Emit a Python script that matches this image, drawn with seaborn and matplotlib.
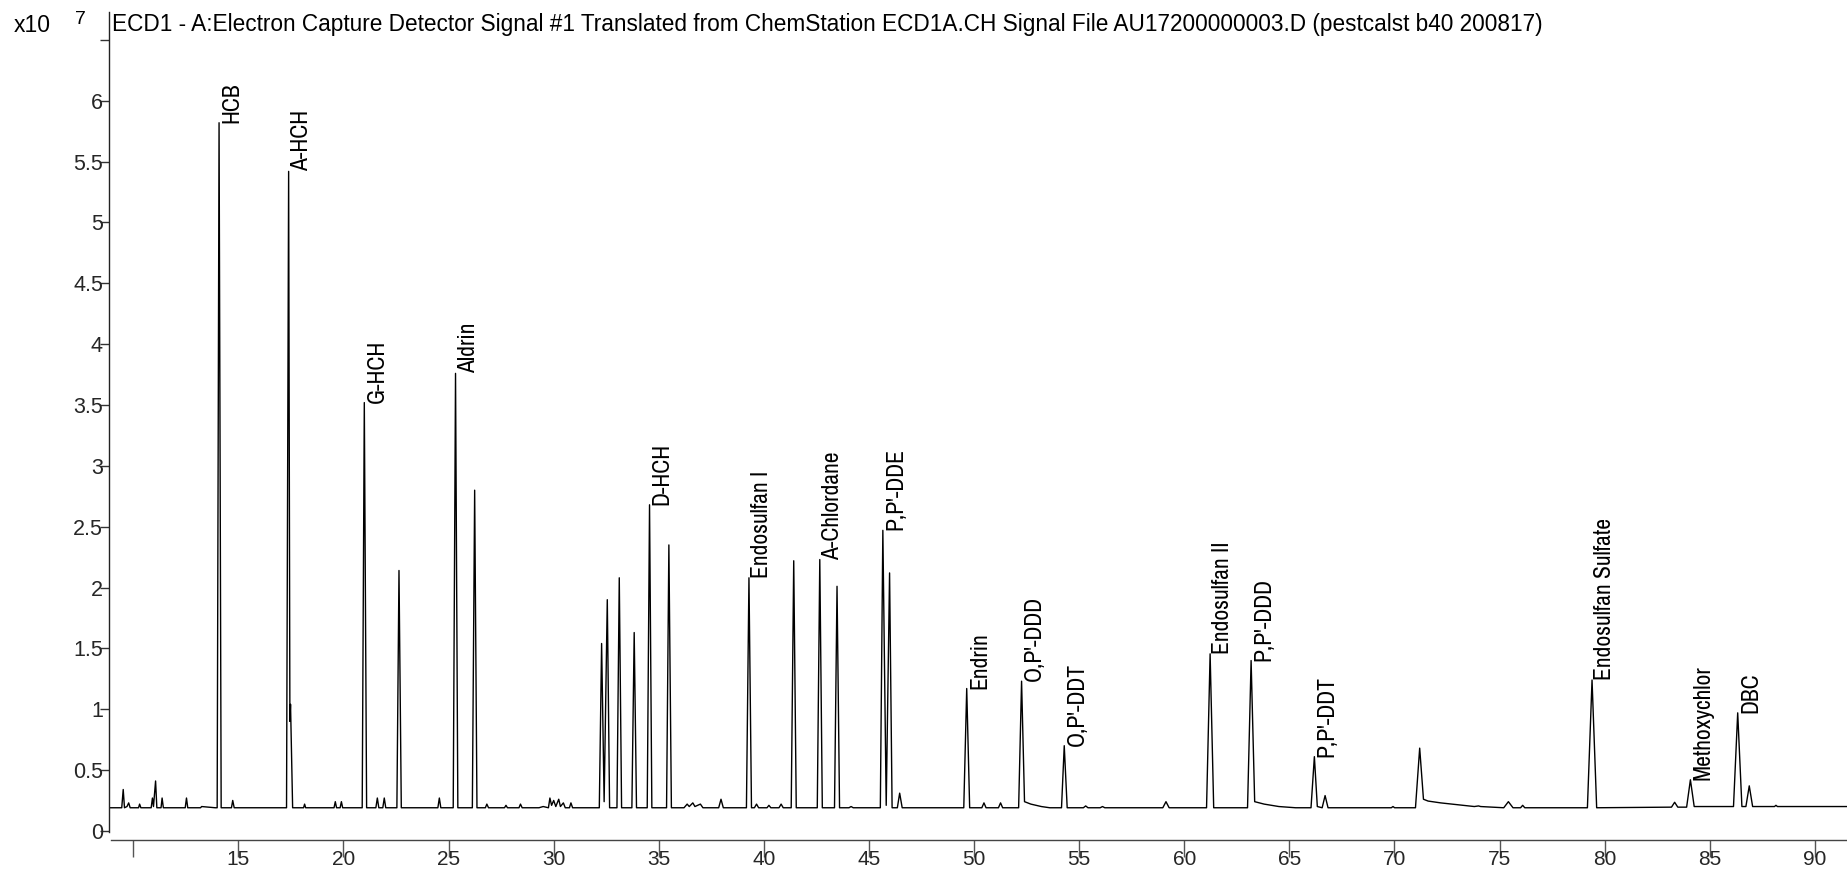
import numpy as np
import pandas as pd
import matplotlib
matplotlib.use("Agg")
import matplotlib.pyplot as plt
from matplotlib import font_manager
import seaborn as sns

# ---- chromatogram trace: retention time (min) and ECD response (x10^7 counts) ----
trace_time = [
    8.85, 9.45, 9.52, 9.58, 9.70, 9.78, 9.85, 10.25, 10.30, 10.36,
    10.85, 10.91, 10.96, 11.06, 11.12, 11.32, 11.37, 11.43, 12.47, 12.53,
    12.59, 13.20, 13.25, 13.90,
    13.99, 14.08, 14.18,
    14.67, 14.73, 14.80,
    17.29, 17.39, 17.45, 17.48, 17.58,
    18.10, 18.15, 18.20, 19.55, 19.61, 19.67, 19.84, 19.90, 19.96,
    20.89, 20.99, 21.10,
    21.54, 21.61, 21.68, 21.87, 21.94, 22.01,
    22.54, 22.64, 22.75,
    24.49, 24.56, 24.63,
    25.22, 25.33, 25.44,
    26.13, 26.24, 26.35,
    26.75, 26.82, 26.90, 27.66, 27.73, 27.80, 28.35, 28.42, 28.50,
    29.30, 29.50, 29.75, 29.82, 29.90, 30.00, 30.10, 30.24, 30.32, 30.46,
    30.55, 30.75, 30.82, 30.90,
    32.17, 32.28, 32.40, 32.55, 32.66,
    33.01, 33.12, 33.23,
    33.72, 33.83, 33.94,
    34.45, 34.56, 34.67,
    35.37, 35.48, 35.60,
    36.20, 36.35, 36.45, 36.62, 36.72, 36.98, 37.10,
    37.85, 37.96, 38.07,
    39.17, 39.29, 39.41,
    39.55, 39.65, 39.75, 40.15, 40.24, 40.33, 40.72, 40.82, 40.92,
    41.30, 41.42, 41.54,
    42.54, 42.66, 42.78,
    43.36, 43.48, 43.60,
    44.05, 44.15, 44.25,
    45.54, 45.66, 45.82, 45.98, 46.10,
    46.35, 46.46, 46.58,
    49.51, 49.65, 49.79,
    50.37, 50.47, 50.57, 51.16, 51.26, 51.36,
    52.12, 52.26, 52.40, 52.70, 53.20, 53.60,
    54.16, 54.29, 54.43,
    55.20, 55.31, 55.42, 56.00, 56.11, 56.22,
    58.98, 59.13, 59.28,
    61.06, 61.23, 61.40,
    63.01, 63.18, 63.35, 63.80, 64.50, 65.30,
    66.03, 66.19, 66.33, 66.56, 66.70, 66.84,
    69.85, 69.93, 70.01,
    71.00, 71.20, 71.38, 71.60, 72.20, 73.00, 73.80, 74.00, 74.10,
    75.20, 75.42, 75.64, 76.00, 76.10, 76.20,
    79.18, 79.40, 79.62,
    83.18, 83.33, 83.48,
    83.90, 84.08, 84.26,
    86.13, 86.33, 86.53, 86.72, 86.88, 87.04,
    88.08, 88.15, 88.22, 91.60,
]
trace_signal = [
    0.19, 0.19, 0.34, 0.19, 0.20, 0.23, 0.19, 0.19, 0.22, 0.19,
    0.19, 0.27, 0.20, 0.41, 0.19, 0.19, 0.27, 0.19, 0.19, 0.27,
    0.19, 0.19, 0.20, 0.19,
    0.19, 5.82, 0.19,
    0.19, 0.25, 0.19,
    0.19, 5.42, 0.90, 1.04, 0.19,
    0.19, 0.22, 0.19, 0.19, 0.24, 0.19, 0.19, 0.24, 0.19,
    0.19, 3.52, 0.19,
    0.19, 0.27, 0.19, 0.19, 0.27, 0.19,
    0.19, 2.14, 0.19,
    0.19, 0.27, 0.19,
    0.19, 3.76, 0.19,
    0.19, 2.80, 0.19,
    0.19, 0.22, 0.19, 0.19, 0.21, 0.19, 0.19, 0.22, 0.19,
    0.19, 0.20, 0.19, 0.27, 0.21, 0.25, 0.20, 0.26, 0.20, 0.23,
    0.19, 0.19, 0.23, 0.19,
    0.19, 1.54, 0.24, 1.90, 0.19,
    0.19, 2.08, 0.19,
    0.19, 1.63, 0.19,
    0.19, 2.68, 0.19,
    0.19, 2.35, 0.19,
    0.19, 0.22, 0.20, 0.23, 0.20, 0.22, 0.19,
    0.19, 0.26, 0.19,
    0.19, 2.08, 0.19,
    0.19, 0.22, 0.19, 0.19, 0.21, 0.19, 0.19, 0.22, 0.19,
    0.19, 2.22, 0.19,
    0.19, 2.23, 0.19,
    0.19, 2.01, 0.19,
    0.19, 0.20, 0.19,
    0.19, 2.47, 0.21, 2.12, 0.19,
    0.19, 0.31, 0.19,
    0.19, 1.17, 0.19,
    0.19, 0.23, 0.19, 0.19, 0.23, 0.19,
    0.19, 1.23, 0.24, 0.22, 0.20, 0.19,
    0.19, 0.70, 0.19,
    0.19, 0.205, 0.19, 0.19, 0.20, 0.19,
    0.19, 0.24, 0.19,
    0.19, 1.455, 0.19,
    0.19, 1.40, 0.24, 0.22, 0.20, 0.19,
    0.19, 0.61, 0.20, 0.19, 0.29, 0.19,
    0.19, 0.20, 0.19,
    0.19, 0.68, 0.26, 0.245, 0.23, 0.215, 0.20, 0.205, 0.20,
    0.19, 0.24, 0.19, 0.19, 0.21, 0.19,
    0.19, 1.24, 0.19,
    0.195, 0.235, 0.195,
    0.195, 0.42, 0.20,
    0.20, 0.97, 0.20, 0.20, 0.37, 0.20,
    0.20, 0.21, 0.20, 0.20,
]

# ---- identified compounds and their retention times (min) ----
peak_names = [
    "HCB", "A-HCH", "G-HCH", "Aldrin", "D-HCH", "Endosulfan I", "A-Chlordane",
    "P,P'-DDE", "Endrin", "O,P'-DDD", "O,P'-DDT", "Endosulfan II", "P,P'-DDD",
    "P,P'-DDT", "Endosulfan Sulfate", "Methoxychlor", "DBC",
]
peak_times = [
    14.08, 17.39, 20.99, 25.33, 34.56, 39.29, 42.66,
    45.66, 49.65, 52.26, 54.29, 61.23, 63.18,
    66.19, 79.40, 84.08, 86.33,
]

# ---- axis ticks ----
x_ticks = [10, 15, 20, 25, 30, 35, 40, 45, 50, 55, 60, 65, 70, 75, 80, 85, 90]
x_tick_labels = [""] + [str(v) for v in x_ticks[1:]]
y_ticks = [0, 0.5, 1, 1.5, 2, 2.5, 3, 3.5, 4, 4.5, 5, 5.5, 6, 6.5]
y_tick_labels = ["0", "0.5", "1", "1.5", "2", "2.5", "3", "3.5", "4", "4.5",
                 "5", "5.5", "6", ""]

title_text = ("ECD1 - A:Electron Capture Detector Signal #1 Translated from "
              "ChemStation ECD1A.CH Signal File AU17200000003.D (pestcalst b40 200817)")

# ---- styling ----
sns.set_theme(style="white")
plt.rcParams["font.family"] = ["Liberation Sans", "DejaVu Sans"]

# compound labels use a condensed face when one is installed
available = sorted({f.name for f in font_manager.fontManager.ttflist})
condensed = [n for n in available if ("Narrow" in n or "Condensed" in n)]
if "Liberation Sans Narrow" in condensed:
    label_family, label_size = "Liberation Sans Narrow", 17
elif condensed:
    label_family, label_size = condensed[0], 17
else:
    label_family, label_size = "Liberation Sans", 14.6

W, H, DPI = 1847, 873, 100
AX_LEFT, AX_BOTTOM, AX_TOP = 108.5, 33.0, 12.0
fig = plt.figure(figsize=(W / DPI, H / DPI), dpi=DPI)
ax = fig.add_axes([AX_LEFT / W, AX_BOTTOM / H, 1 - AX_LEFT / W,
                   (H - AX_BOTTOM - AX_TOP) / H])

df = pd.DataFrame({"time": trace_time, "signal": trace_signal})
sns.lineplot(data=df, x="time", y="signal", ax=ax, color="black",
             linewidth=1.0, estimator=None, sort=False)

ax.set_xlim(8.82, 91.53)
ax.set_ylim(-0.075, 6.73)
ax.set_xlabel("")
ax.set_ylabel("")

ax.set_xticks(x_ticks)
ax.set_xticklabels(x_tick_labels)
ax.set_yticks(y_ticks)
ax.set_yticklabels(y_tick_labels)

ax.tick_params(axis="x", direction="out", length=12.5, width=1.0, color="#555555",
               labelsize=15.0, pad=-5.5, bottom=True)
ax.tick_params(axis="y", direction="out", length=6.5, width=1.0, color="#333333",
               labelsize=15.5, pad=-2.5, left=True)

for side in ("top", "right"):
    ax.spines[side].set_visible(False)
ax.spines["left"].set_color("#222222")
ax.spines["left"].set_linewidth(1.0)
ax.spines["left"].set_bounds(-0.01, 6.73)
ax.spines["bottom"].set_color("#444444")
ax.spines["bottom"].set_linewidth(1.0)
ax.spines["bottom"].set_bounds(8.95, 91.53)

# compound labels, standing on each peak apex
for name, t in zip(peak_names, peak_times):
    apex = float(np.interp(t, trace_time, trace_signal))
    ax.annotate(name, xy=(t, apex), xytext=(1.6, 0), textcoords="offset points",
                rotation=90, ha="left", va="bottom", fontsize=label_size,
                family=label_family, color="black", annotation_clip=False)

fig.text(112 / W, 1 - 24 / H, title_text, ha="left", va="center", fontsize=16.3,
         color="black")
fig.text(14 / W, 1 - 25 / H, "x10", ha="left", va="center", fontsize=16.5,
         color="black")
fig.text(75 / W, 1 - 20 / H, "7", ha="left", va="center", fontsize=14,
         color="black")

fig.savefig("out.png", dpi=DPI)
